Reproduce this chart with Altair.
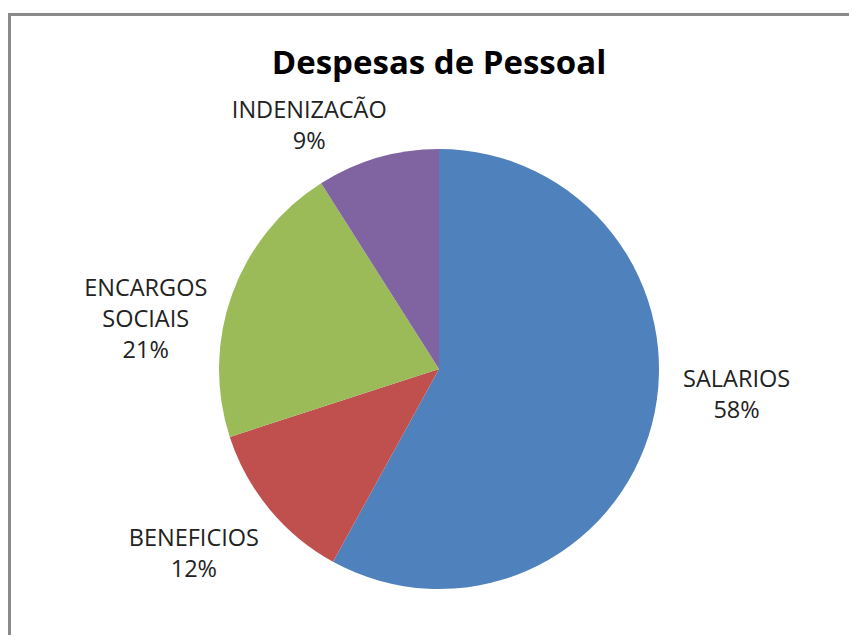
import altair as alt
import pandas as pd

categories = ["SALARIOS", "BENEFICIOS", "ENCARGOS SOCIAIS", "INDENIZACÃO"]
values = [58, 12, 21, 9]
colors = ["#4F81BD", "#C0504D", "#9BBB59", "#8064A2"]

df = pd.DataFrame({
    "cat": categories,
    "value": values,
    "idx": list(range(len(categories))),
})
df["label"] = [c.replace(" ", "\n") + "\n" + f"{v}%" for c, v in zip(categories, values)]

FONT = "Open Sans"
LABEL_SIZE = 23.5

theta = alt.Theta("value:Q", stack=True)
order = alt.Order("idx:Q")

pie = alt.Chart(df).mark_arc(radius=220).encode(
    theta=theta,
    order=order,
    color=alt.Color("cat:N", scale=alt.Scale(domain=categories, range=colors), legend=None),
)

# per-label nudges (label placement style)
nudges = {
    "SALARIOS": (7, -64),
    "BENEFICIOS": (-14, -21),
    "ENCARGOS SOCIAIS": (-11, 22),
    "INDENIZACÃO": (-46, 30),
}

label_layers = []
for cat in categories:
    dx, dy = nudges[cat]
    label_layers.append(
        alt.Chart(df).mark_text(
            radius=300, dx=dx, dy=dy, lineBreak="\n", font=FONT, fontSize=LABEL_SIZE,
            color="#222222", align="center", baseline="middle", lineHeight=31,
        ).encode(
            theta=theta,
            order=order,
            text="label:N",
            opacity=alt.condition(alt.datum.cat == cat, alt.value(1), alt.value(0)),
        )
    )

one = pd.DataFrame({"a": [0]})
left_border = alt.Chart(one).mark_rule(color="#8a8a8a", strokeWidth=3).encode(
    x=alt.value(-19.5), y=alt.value(-88.5), y2=alt.value(560)
)
top_border = alt.Chart(one).mark_rule(color="#8a8a8a", strokeWidth=3).encode(
    x=alt.value(-21), x2=alt.value(830), y=alt.value(-88.5)
)

chart = alt.layer(pie, *label_layers, left_border, top_border).properties(
    width=820,
    height=532,
    autosize=alt.AutoSizeParams(type="none"),
    padding={"left": 21, "top": 95, "right": 0, "bottom": 0},
    title=alt.TitleParams(
        "Despesas de Pessoal", font=FONT, fontSize=33, fontWeight="bold",
        color="#000000", anchor="middle", offset=-76, frame="group",
    ),
    background="white",
).configure_view(stroke=None)

chart.save("out.html", embed_options={"renderer": "svg", "actions": False})
